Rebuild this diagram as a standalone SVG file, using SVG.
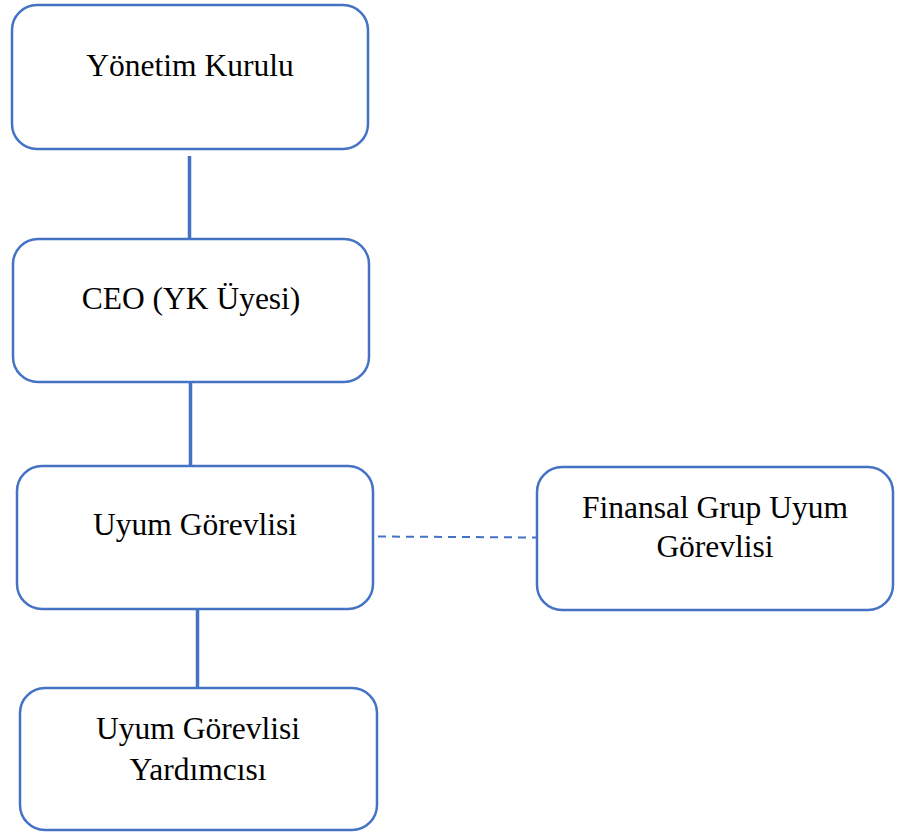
<svg xmlns="http://www.w3.org/2000/svg" width="906" height="832" viewBox="0 0 906 832">
<style>
.box{fill:#fff;stroke:#4472C4;stroke-width:2.5}
.lbl{font-family:"Liberation Serif","Times New Roman",serif;font-size:31.5px;fill:#000;text-anchor:middle}
.conn{stroke:#4472C4;stroke-width:3.5;fill:none}
.dash{stroke:#4472C4;stroke-width:2;stroke-dasharray:8 6;fill:none}
</style>
<rect width="906" height="832" fill="#fff"/>
<g id="connectors">
<line class="conn" x1="189.5" y1="156" x2="189.5" y2="239"/>
<line class="conn" x1="190.5" y1="382" x2="190.5" y2="466"/>
<line class="conn" x1="197.5" y1="609" x2="197.5" y2="688"/>
<line class="dash" x1="378" y1="536.5" x2="537" y2="537.5"/>
</g>
<g id="yonetim">
<rect class="box" x="12" y="5" width="356" height="144" rx="25"/>
<text class="lbl" x="190" y="76">Yönetim Kurulu</text>
</g>
<g id="ceo">
<rect class="box" x="13" y="239" width="356" height="143" rx="25"/>
<text class="lbl" x="191" y="309">CEO (YK Üyesi)</text>
</g>
<g id="uyum">
<rect class="box" x="17" y="466" width="356" height="143" rx="25"/>
<text class="lbl" x="195" y="535">Uyum Görevlisi</text>
</g>
<g id="finansal">
<rect class="box" x="537" y="467" width="356" height="143" rx="25"/>
<text class="lbl" x="715" y="518">Finansal Grup Uyum</text>
<text class="lbl" x="715" y="557">Görevlisi</text>
</g>
<g id="yardimci">
<rect class="box" x="20" y="688" width="357" height="142" rx="25"/>
<text class="lbl" x="198" y="739">Uyum Görevlisi</text>
<text class="lbl" x="198" y="780">Yardımcısı</text>
</g>
</svg>
